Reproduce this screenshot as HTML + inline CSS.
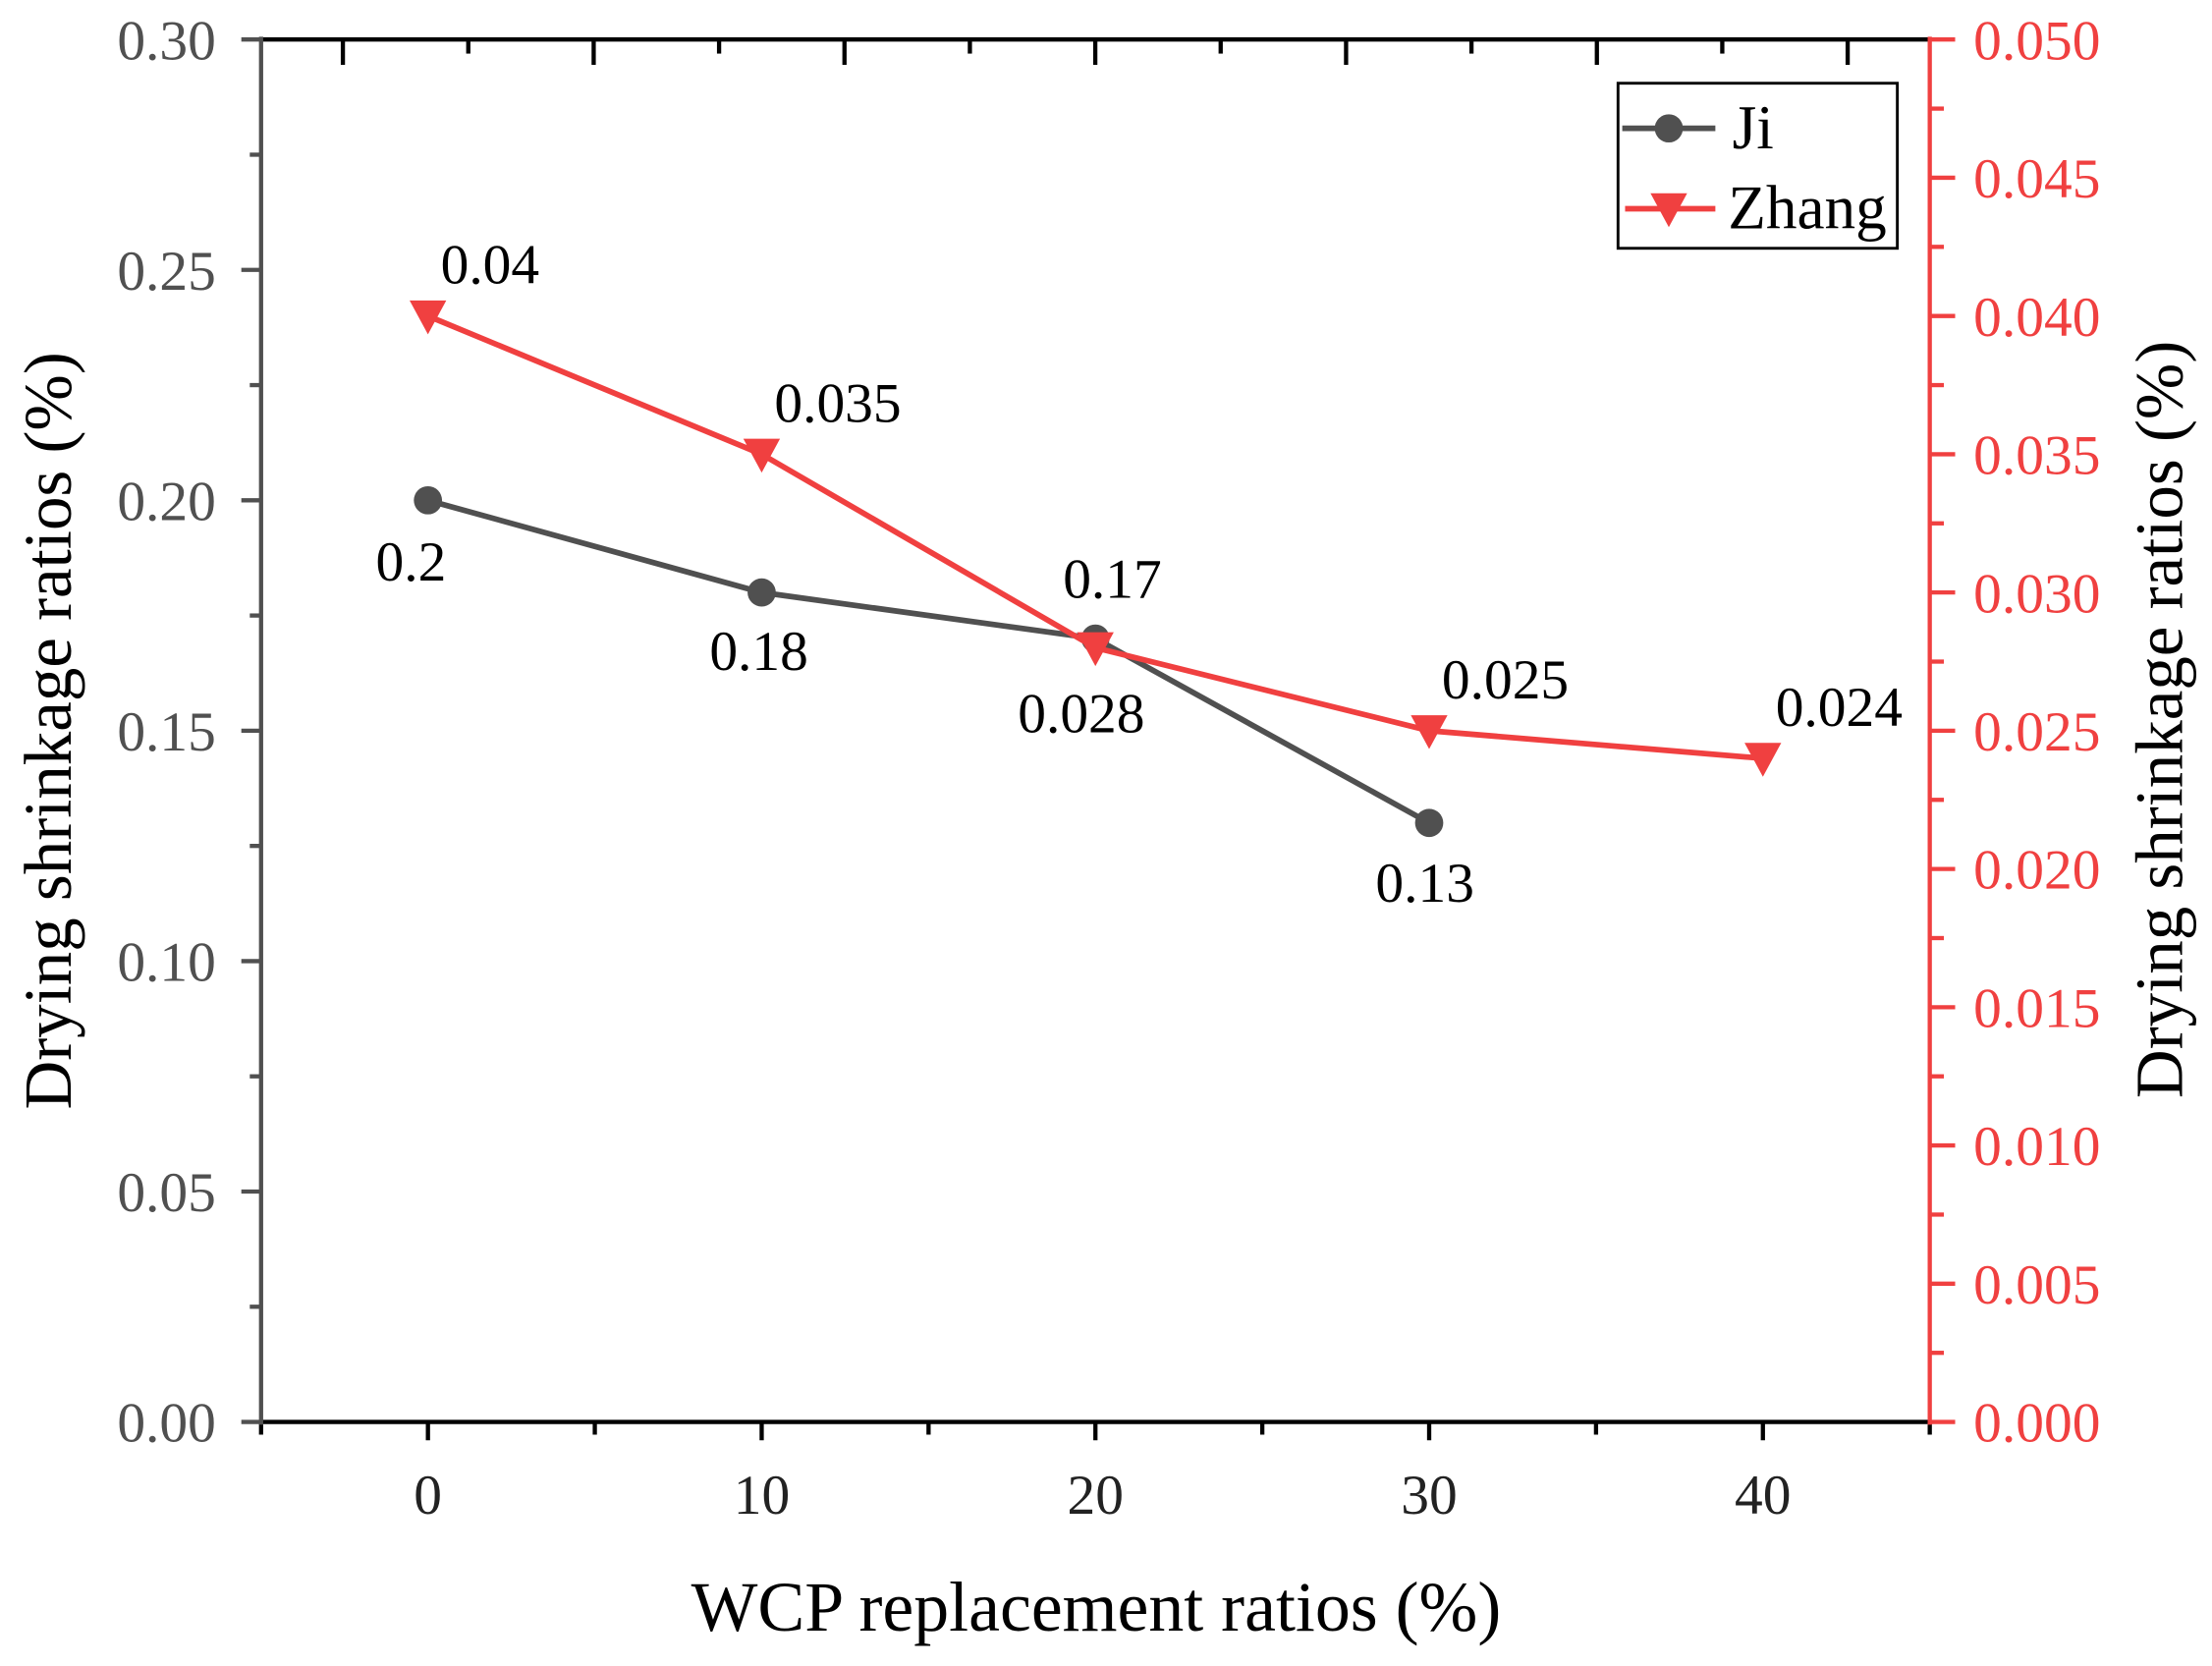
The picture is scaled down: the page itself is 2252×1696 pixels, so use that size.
<!DOCTYPE html>
<html><head><meta charset="utf-8"><style>
html,body{margin:0;padding:0;background:#fff}
svg{display:block;font-family:"Liberation Serif",serif}
</style></head><body>
<svg id="chart" width="2252" height="1696" viewBox="0 0 1568 1181" xmlns="http://www.w3.org/2000/svg">
<g id="g"></g>
</svg>
<script>
const xCats=[0,10,20,30,40];
const jiX=[0,10,20,30];
const jiVals=[0.20,0.18,0.17,0.13];
const jiLabels=["0.2","0.18","0.17","0.13"];
const zhX=[0,10,20,30,40];
const zhVals=[0.040,0.035,0.028,0.025,0.024];
const zhLabels=["0.04","0.035","0.028","0.025","0.024"];
const leftTicks=["0.00","0.05","0.10","0.15","0.20","0.25","0.30"];
const rightTicks=["0.000","0.005","0.010","0.015","0.020","0.025","0.030","0.035","0.040","0.045","0.050"];

const L=185,R=1368,T=28,B=1008;
const X=v=>L+(v+5)/50*(R-L);
const YL=v=>B-v/0.30*(B-T);
const YR=v=>B-v/0.05*(B-T);
const NS="http://www.w3.org/2000/svg";
const g=document.getElementById('g');
function mk(tag,attrs,name,text){const e=document.createElementNS(NS,tag);for(const k in attrs)e.setAttribute(k,attrs[k]);


if(text!==undefined)e.textContent=text;g.appendChild(e);return e;}
const GR='#505050',RD='#f04040';
// top axis
mk('line',{x1:L,y1:T,x2:R,y2:T,stroke:'#000','stroke-width':3},'top-axis');
for(let k=0;k<14;k++){const x=243+88.9*k;if(x>R)break;mk('line',{x1:x,y1:T,x2:x,y2:T+(k%2?10:18),stroke:'#000','stroke-width':3},'top-tick');}
// bottom axis
mk('line',{x1:L,y1:B,x2:R,y2:B,stroke:'#000','stroke-width':3},'x-axis');
for(let v=-5;v<=45;v+=5){const x=X(v);mk('line',{x1:x,y1:B,x2:x,y2:B+(v%10===0?13:9),stroke:'#000','stroke-width':3},'x-tick');}
xCats.forEach(v=>mk('text',{x:X(v),y:1073,'font-size':40,'text-anchor':'middle',fill:'#222'},'x-tick-label',String(v)));
mk('text',{x:777,y:1156,'font-size':50,'text-anchor':'middle',fill:'#000'},'x-axis-title','WCP replacement ratios (%)');
// left axis
mk('line',{x1:L,y1:T-2,x2:L,y2:B+2,stroke:GR,'stroke-width':3},'left-y-axis');
for(let i=0;i<=12;i++){const y=YL(i*0.025);mk('line',{x1:L,y1:y,x2:L-(i%2?8:14),y2:y,stroke:GR,'stroke-width':3},'left-y-tick');}
leftTicks.forEach(t=>mk('text',{x:153,y:YL(parseFloat(t))+14,'font-size':40,'text-anchor':'end',fill:GR},'left-y-tick-label',t));
mk('text',{x:0,y:0,'font-size':48,'text-anchor':'middle',fill:'#000',transform:'translate(50,518) rotate(-90)'},'left-y-axis-title','Drying shrinkage ratios (%)');
// right axis
mk('line',{x1:R,y1:T-2,x2:R,y2:B+2,stroke:RD,'stroke-width':3},'right-y-axis');
for(let i=0;i<=20;i++){const y=YR(i*0.0025);mk('line',{x1:R,y1:y,x2:R+(i%2?10:18),y2:y,stroke:RD,'stroke-width':3},'right-y-tick');}
rightTicks.forEach(t=>mk('text',{x:1399,y:YR(parseFloat(t))+14,'font-size':40,'text-anchor':'start',fill:RD},'right-y-tick-label',t));
mk('text',{x:0,y:0,'font-size':48,'text-anchor':'middle',fill:'#000',transform:'translate(1547,510) rotate(-90)'},'right-y-axis-title','Drying shrinkage ratios (%)');
// Ji series
mk('polyline',{points:jiX.map((x,i)=>X(x)+','+YL(jiVals[i])).join(' '),fill:'none',stroke:GR,'stroke-width':4},'ji-line');
jiX.forEach((x,i)=>mk('circle',{cx:X(x),cy:YL(jiVals[i]),r:10,fill:GR},'ji-point'));
const jiOff=[[-12,44],[-2,42],[12,-42],[-3,43]];
jiX.forEach((x,i)=>mk('text',{x:X(x)+jiOff[i][0],y:YL(jiVals[i])+jiOff[i][1]+13,'font-size':40,'text-anchor':'middle',fill:'#000'},'ji-value-label',jiLabels[i]));
// Zhang series
mk('polyline',{points:zhX.map((x,i)=>X(x)+','+YR(zhVals[i])).join(' '),fill:'none',stroke:RD,'stroke-width':4},'zhang-line');
zhX.forEach((x,i)=>{const cx=X(x),cy=YR(zhVals[i]);mk('polygon',{points:`${cx-13},${cy-11} ${cx+13},${cy-11} ${cx},${cy+13}`,fill:RD},'zhang-point');});
zhX.forEach((x,i)=>{const off=i===2?[-10,47]:[9,-36];mk('text',{x:X(x)+off[0],y:YR(zhVals[i])+off[1]+13,'font-size':40,'text-anchor':i===2?'middle':'start',fill:'#000'},'zhang-value-label',zhLabels[i]);});
// legend
mk('rect',{x:1147,y:59,width:198,height:117,fill:'#fff',stroke:'#000','stroke-width':2},'legend-box');
mk('line',{x1:1150,y1:91,x2:1216,y2:91,stroke:GR,'stroke-width':4},'legend-ji-line');
mk('circle',{cx:1183,cy:91,r:10,fill:GR},'legend-ji-marker');
mk('text',{x:1228,y:105,'font-size':44,fill:'#000'},'legend-ji-label','Ji');
mk('line',{x1:1152,y1:148,x2:1216,y2:148,stroke:RD,'stroke-width':4},'legend-zhang-line');
mk('polygon',{points:'1170,137 1196,137 1183,161',fill:RD},'legend-zhang-marker');
mk('text',{x:1225,y:162,'font-size':44,fill:'#000'},'legend-zhang-label','Zhang');
</script>
</body></html>
